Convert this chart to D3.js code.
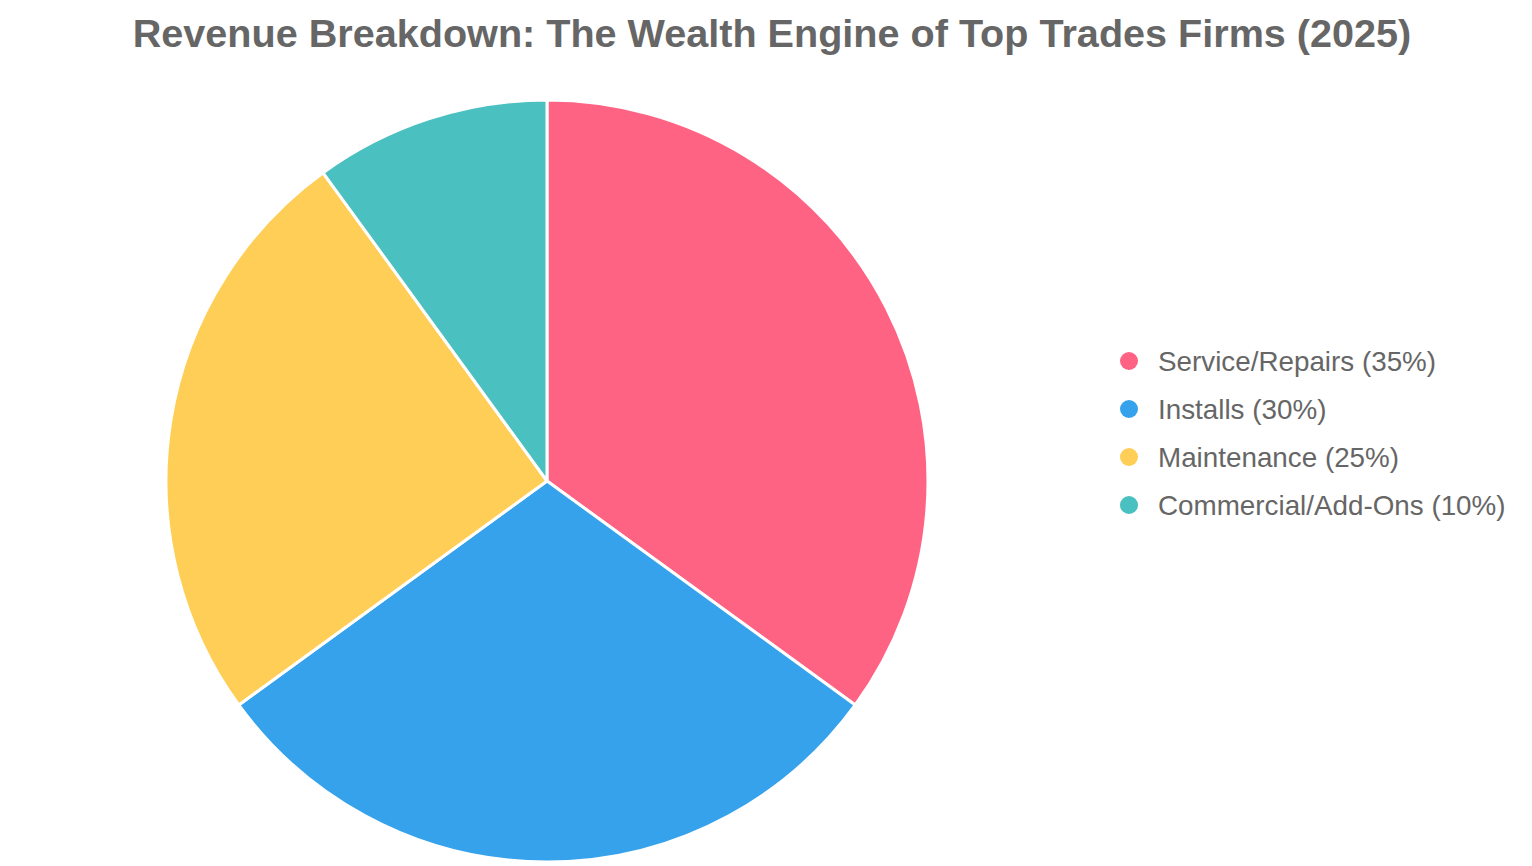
<!DOCTYPE html>
<html>
<head>
<meta charset="utf-8">
<script src="https://cdn.jsdelivr.net/npm/d3@7"></script>
<style>
  html, body { margin: 0; padding: 0; background: #fff; }
  text { font-family: "Liberation Sans", Arial, Helvetica, sans-serif; fill: #666; }
</style>
</head>
<body>
<div id="chart"></div>
<script>
// data
var categories = ["Service/Repairs", "Installs", "Maintenance", "Commercial/Add-Ons"];
var shares = [35, 30, 25, 10];
var colors = ["#FF6384", "#36A2EB", "#FFCE56", "#4BC0C0"];
var titleText = "Revenue Breakdown: The Wealth Engine of Top Trades Firms (2025)";

var chart_w = 1532, chart_h = 866;
var cx = 547, cy = 481, radius = 381;

var svg = d3.select("#chart").append("svg")
    .attr("width", chart_w)
    .attr("height", chart_h);

// title
svg.append("text")
    .attr("x", 772)
    .attr("y", 47)
    .attr("text-anchor", "middle")
    .style("font-size", "39.6px")
    .style("font-weight", "bold")
    .text(titleText);

var data = categories.map(function(c, i) { return {name: c, value: shares[i], color: colors[i]}; });

var pie = d3.pie().sort(null).value(function(d) { return d.value; });
var arc = d3.arc().innerRadius(0).outerRadius(radius);

var g = svg.append("g").attr("transform", "translate(" + cx + "," + cy + ")");
g.selectAll("path")
    .data(pie(data))
    .enter()
    .append("path")
    .attr("d", arc)
    .attr("fill", function(d) { return d.data.color; })
    .attr("stroke", "#fff")
    .attr("stroke-width", 3)
    .attr("stroke-linejoin", "round");

// legend
var legend = svg.append("g").attr("transform", "translate(1129,361)");
var rows = legend.selectAll("g")
    .data(data)
    .enter()
    .append("g")
    .attr("transform", function(d, i) { return "translate(0," + (i * 48) + ")"; });
rows.append("circle")
    .attr("r", 9)
    .attr("fill", function(d) { return d.color; });
rows.append("text")
    .attr("x", 29)
    .attr("y", 9.5)
    .style("font-size", "27.8px")
    .text(function(d) { return d.name + " (" + d.value + "%)"; });
</script>
</body>
</html>
